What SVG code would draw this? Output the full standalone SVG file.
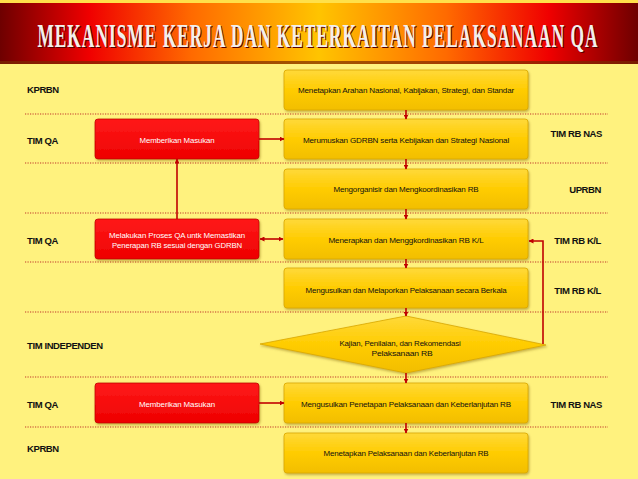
<svg xmlns="http://www.w3.org/2000/svg" width="638" height="479" viewBox="0 0 638 479">
<defs>
<linearGradient id="banner" x1="0" y1="0" x2="1" y2="0">
<stop offset="0" stop-color="#6E0000"/>
<stop offset="0.14" stop-color="#F00000"/>
<stop offset="0.3" stop-color="#FF6A00"/>
<stop offset="0.5" stop-color="#FFC400"/>
<stop offset="0.7" stop-color="#FF6A00"/>
<stop offset="0.86" stop-color="#F00000"/>
<stop offset="1" stop-color="#6E0000"/>
</linearGradient>
<linearGradient id="yel" x1="0" y1="0" x2="0" y2="1">
<stop offset="0" stop-color="#FFD93A"/>
<stop offset="0.5" stop-color="#FFCC00"/>
<stop offset="1" stop-color="#F2BE00"/>
</linearGradient>
<linearGradient id="red" x1="0" y1="0" x2="0" y2="1">
<stop offset="0" stop-color="#FF1A1A"/>
<stop offset="1" stop-color="#EE0000"/>
</linearGradient>
<filter id="sh" x="-10%" y="-20%" width="120%" height="150%">
<feDropShadow dx="1" dy="1.5" stdDeviation="1" flood-color="#7a5a00" flood-opacity="0.45"/>
</filter>
<marker id="ah" viewBox="0 0 10 10" refX="9" refY="5" markerWidth="5" markerHeight="5" orient="auto-start-reverse" markerUnits="userSpaceOnUse">
<path d="M0,0 L10,5 L0,10 z" fill="#C00000"/>
</marker>
</defs>
<style>
.lab{font-family:"Liberation Sans",Arial,sans-serif;font-weight:bold;font-size:9.5px;fill:#111;letter-spacing:-0.4px}
.bt{font-family:"Liberation Sans",Arial,sans-serif;font-size:7px;fill:#111;text-anchor:middle;letter-spacing:-0.15px}
.rt{font-family:"Liberation Sans",Arial,sans-serif;font-size:7px;fill:#fff;text-anchor:middle;letter-spacing:-0.1px}
.yb{fill:url(#yel);stroke:#D9A700;stroke-width:0.8;filter:url(#sh)}
.rb{fill:url(#red);stroke:#C00000;stroke-width:0.8;filter:url(#sh)}
.dot{stroke:#C0392B;stroke-width:1.2;stroke-dasharray:1.2 1.3;fill:none}
.cn{stroke:#C00000;stroke-width:1.6;fill:none}
.tt{font-family:"Liberation Serif",serif;font-weight:bold;font-size:34px;text-anchor:middle;letter-spacing:2px}
</style>
<rect width="638" height="479" fill="#FFF27E"/>
<rect x="0" y="0" width="638" height="4" fill="#FFE04A"/>
<g id="title">
<rect x="0" y="3" width="638" height="61" fill="url(#banner)"/>
<rect x="0" y="61" width="638" height="3" fill="#7A2A00" opacity="0.7"/>
<g transform="translate(318,0) scale(0.51,1)">
<text class="tt" x="2" y="48" fill="#5A0000">MEKANISME KERJA DAN KETERKAITAN PELAKSANAAN QA</text>
<text class="tt" x="0" y="47" fill="#F2F0EC">MEKANISME KERJA DAN KETERKAITAN PELAKSANAAN QA</text>
</g>
</g>
<g id="lanes">
<line class="dot" x1="25" y1="114" x2="608" y2="114"/>
<line class="dot" x1="25" y1="163" x2="608" y2="163"/>
<line class="dot" x1="25" y1="213" x2="608" y2="213"/>
<line class="dot" x1="25" y1="262" x2="608" y2="262"/>
<line class="dot" x1="25" y1="312" x2="608" y2="312"/>
<line class="dot" x1="25" y1="377" x2="608" y2="377"/>
<line class="dot" x1="25" y1="427" x2="608" y2="427"/>
</g>
<g id="labels">
<text class="lab" x="27" y="93">KPRBN</text>
<text class="lab" x="27" y="144">TIM QA</text>
<text class="lab" x="27" y="244">TIM QA</text>
<text class="lab" x="27" y="349">TIM INDEPENDEN</text>
<text class="lab" x="27" y="408">TIM QA</text>
<text class="lab" x="27" y="452">KPRBN</text>
<text class="lab" x="602" y="137" text-anchor="end">TIM RB NAS</text>
<text class="lab" x="601" y="193" text-anchor="end">UPRBN</text>
<text class="lab" x="601" y="244" text-anchor="end">TIM RB K/L</text>
<text class="lab" x="601" y="294" text-anchor="end">TIM RB K/L</text>
<text class="lab" x="602" y="408" text-anchor="end">TIM RB NAS</text>
</g>
<g id="n1"><rect class="yb" x="284" y="70" width="244" height="40" rx="3"/><text class="bt" x="406" y="92.5" textLength="216" lengthAdjust="spacingAndGlyphs">Menetapkan Arahan Nasional, Kabijakan, Strategi, dan Standar</text></g>
<g id="n2"><rect class="yb" x="284" y="119" width="244" height="40" rx="3"/><text class="bt" x="406" y="142.5" textLength="206" lengthAdjust="spacingAndGlyphs">Merumuskan GDRBN serta Kebijakan dan Strategi Nasional</text></g>
<g id="n3"><rect class="yb" x="284" y="169" width="244" height="40" rx="3"/><text class="bt" x="406" y="191.5" textLength="145" lengthAdjust="spacingAndGlyphs">Mengorganisir dan Mengkoordinasikan RB</text></g>
<g id="n4"><rect class="yb" x="284" y="219" width="244" height="40" rx="3"/><text class="bt" x="406" y="242.5" textLength="155" lengthAdjust="spacingAndGlyphs">Menerapkan dan Menggkordinasikan RB  K/L</text></g>
<g id="n5"><rect class="yb" x="284" y="268" width="244" height="40" rx="3"/><text class="bt" x="406" y="292.5" textLength="201" lengthAdjust="spacingAndGlyphs">Mengusulkan dan Melaporkan Pelaksanaan secara Berkala</text></g>
<g id="n6"><path class="yb" d="M406,316 L546,345 L406,373 L260,344 Z"/><text class="bt" x="400" y="345.5" textLength="121" lengthAdjust="spacingAndGlyphs">Kajian, Penilaian, dan Rekomendasi</text><text class="bt" x="402" y="355.5" textLength="61" lengthAdjust="spacingAndGlyphs">Pelaksanaan RB</text></g>
<g id="n7"><rect class="yb" x="284" y="383" width="244" height="40" rx="3"/><text class="bt" x="406" y="406.5" textLength="210" lengthAdjust="spacingAndGlyphs">Mengusulkan Penetapan Pelaksanaan dan Keberlanjutan RB</text></g>
<g id="n8"><rect class="yb" x="284" y="433" width="244" height="40" rx="3"/><text class="bt" x="406" y="456" textLength="165" lengthAdjust="spacingAndGlyphs">Menetapkan Pelaksanaan dan Keberlanjutan RB</text></g>
<g id="r1"><rect class="rb" x="95" y="119" width="164" height="40" rx="3"/><text class="rt" x="177" y="142.5" textLength="75" lengthAdjust="spacingAndGlyphs">Memberikan Masukan</text></g>
<g id="r2"><rect class="rb" x="95" y="219" width="164" height="40" rx="3"/><text class="rt" x="177" y="237.5" textLength="136" lengthAdjust="spacingAndGlyphs">Melakukan Proses QA untk Memastikan</text><text class="rt" x="177" y="247.5" textLength="130" lengthAdjust="spacingAndGlyphs">Penerapan RB sesuai dengan GDRBN</text></g>
<g id="r3"><rect class="rb" x="95" y="383" width="164" height="40" rx="3"/><text class="rt" x="177" y="406.5" textLength="76" lengthAdjust="spacingAndGlyphs">Memberikan Masukan</text></g>
<g id="connectors">
<line class="cn" x1="406" y1="110" x2="406" y2="119" marker-end="url(#ah)"/>
<line class="cn" x1="406" y1="159" x2="406" y2="169" marker-end="url(#ah)"/>
<line class="cn" x1="406" y1="209" x2="406" y2="219" marker-end="url(#ah)"/>
<line class="cn" x1="406" y1="259" x2="406" y2="268" marker-end="url(#ah)"/>
<line class="cn" x1="406" y1="308" x2="406" y2="316" marker-end="url(#ah)"/>
<line class="cn" x1="406" y1="373" x2="406" y2="383" marker-end="url(#ah)"/>
<line class="cn" x1="406" y1="423" x2="406" y2="433" marker-end="url(#ah)"/>
<line class="cn" x1="259" y1="139" x2="284" y2="139" marker-end="url(#ah)"/>
<line class="cn" x1="177" y1="219" x2="177" y2="159" marker-end="url(#ah)"/>
<line class="cn" x1="260" y1="239" x2="283" y2="239" marker-start="url(#ah)" marker-end="url(#ah)"/>
<line class="cn" x1="259" y1="403" x2="284" y2="403" marker-end="url(#ah)"/>
<path class="cn" d="M543,344 L543,241 L529,241" marker-end="url(#ah)"/>
</g>
</svg>
